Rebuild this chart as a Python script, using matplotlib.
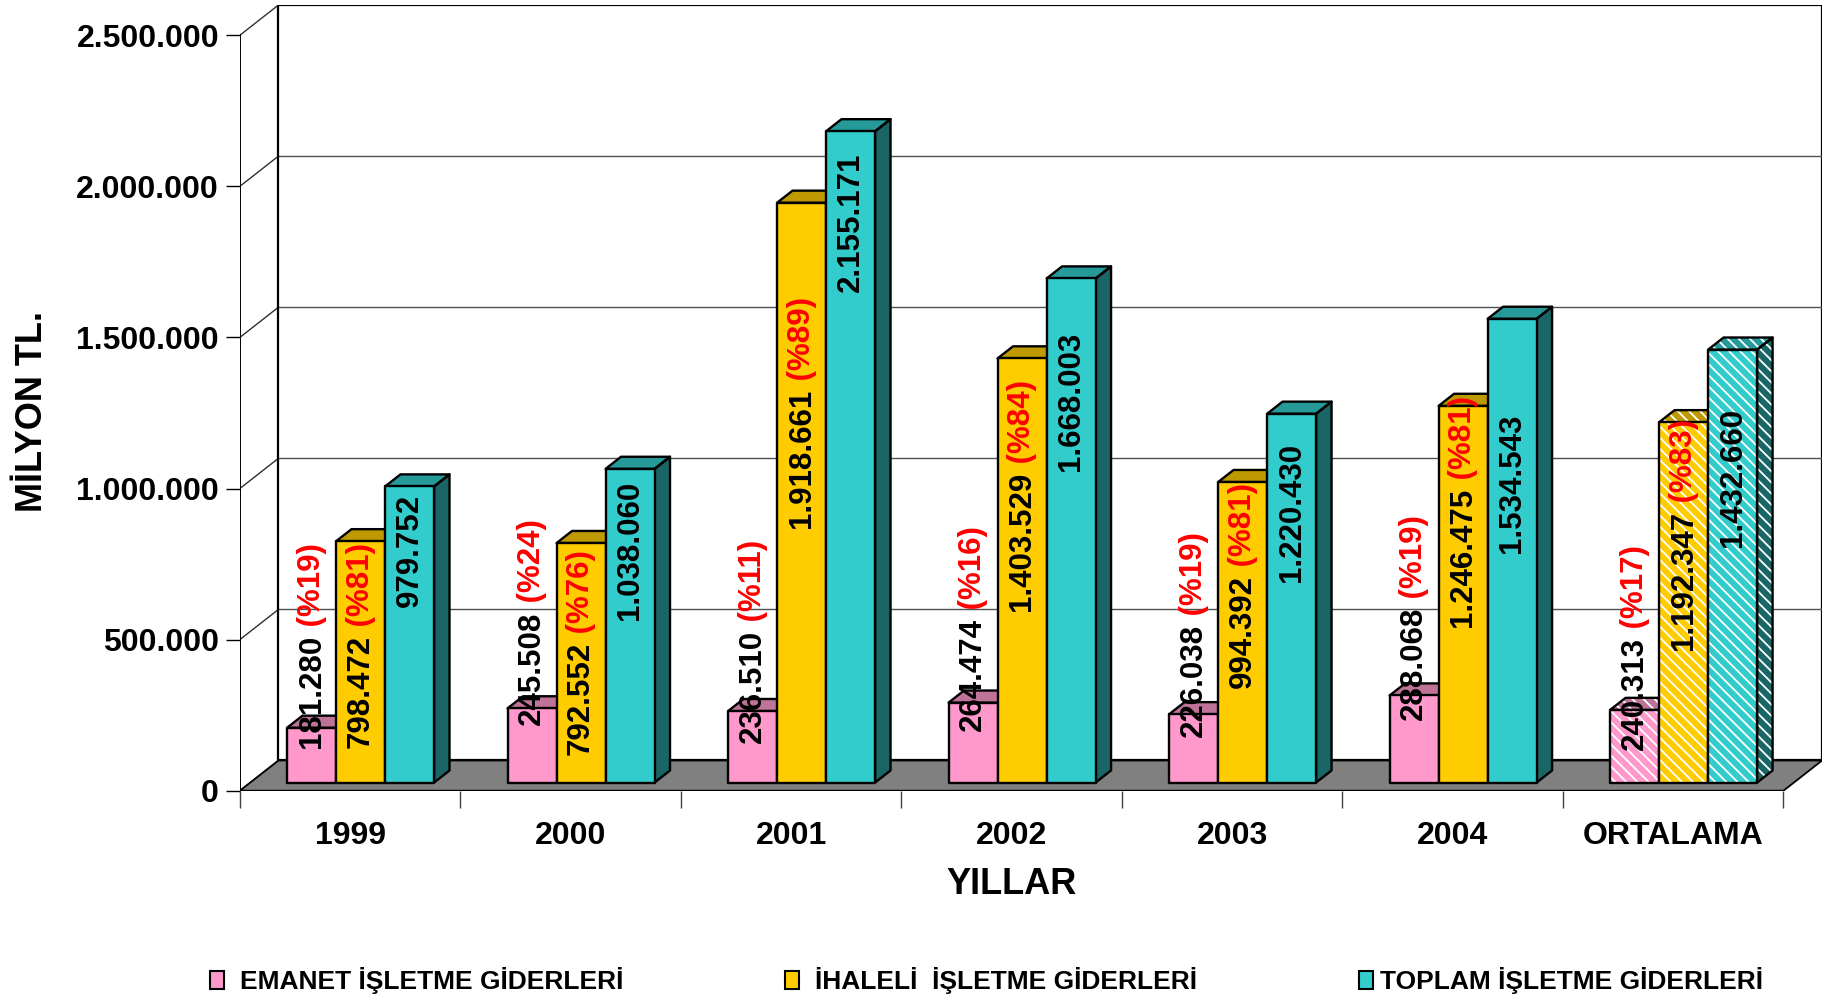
import matplotlib
matplotlib.use('Agg')
import matplotlib.pyplot as plt
from matplotlib.patches import Polygon, Rectangle
from matplotlib.ticker import FuncFormatter
from matplotlib import font_manager

# ---- data ----
categories = ['1999', '2000', '2001', '2002', '2003', '2004', 'ORTALAMA']
emanet = [181280, 245508, 236510, 264474, 226038, 288068, 240313]
ihaleli = [798472, 792552, 1918661, 1403529, 994392, 1246475, 1192347]
toplam = [979752, 1038060, 2155171, 1668003, 1220430, 1534543, 1432660]
emanet_pct = [19, 24, 11, 16, 19, 19, 17]
ihaleli_pct = [81, 76, 89, 84, 81, 81, 83]
series_names = ['EMANET İŞLETME GİDERLERİ', 'İHALELİ  İŞLETME GİDERLERİ', 'TOPLAM İŞLETME GİDERLERİ']

# where each data label starts (labels were placed by hand in the original)
lab_emanet = [141e3, 218e3, 158e3, 197e3, 177e3, 234e3, 135e3]
lab_ihaleli = [141e3, 118e3, 869e3, 595e3, 340e3, 541e3, 465e3]
lab_toplam = [607e3, 565e3, 1650e3, 1058e3, 690e3, 786e3, 806e3]

# ---- style ----
names = {f.name for f in font_manager.fontManager.ttflist}
plt.rcParams['font.family'] = ['Liberation Sans', 'DejaVu Sans']
plt.rcParams['hatch.linewidth'] = 1.3
legend_font = 'Liberation Sans Narrow' if 'Liberation Sans Narrow' in names else 'Liberation Sans'
legend_size = 23 if legend_font == 'Liberation Sans Narrow' else 19

# face colours: front, top, side
colors = [('#FF99CC', '#BF7399', '#804D66'),
          ('#FFCC00', '#BF9900', '#806600'),
          ('#33CCCC', '#269999', '#1A6666')]

DX, DY = 0.175, 100000          # depth offset of the 3d box
D_FRONT, D_BACK = 0.27, 0.67    # depth range of the bars
W = 1 / 4.5                     # bar width
LW = 1.7
YMAX = 2500000
n = len(categories)

fig = plt.figure(figsize=(18.34, 10), dpi=100)
ax = fig.add_axes([0.1308, 0.2093, 0.8627, 0.7857])
ax.set_xlim(0, n + DX)
ax.set_ylim(0, YMAX + DY)
for s in ax.spines.values():
    s.set_visible(False)
ax.patch.set_alpha(0)

# walls
ax.add_patch(Polygon([(DX, DY), (n + DX, DY), (n + DX, YMAX + DY), (DX, YMAX + DY)],
                     closed=True, facecolor='white', edgecolor='black', lw=1.6, zorder=0.5))
for v in range(500000, YMAX, 500000):
    ax.plot([DX, n + DX], [v + DY, v + DY], color='#505050', lw=1, zorder=0.6)
for v in range(0, YMAX + 1, 500000):
    ax.plot([0, DX], [v, v + DY], color='#303030', lw=1, zorder=0.6)
ax.plot([0, 0], [0, YMAX], color='black', lw=1.4, zorder=0.7)
ax.plot([DX, DX], [DY, YMAX + DY], color='black', lw=1.4, zorder=0.7)

# floor
ax.add_patch(Polygon([(0, 0), (n, 0), (n + DX, DY), (DX, DY)], closed=True,
                     facecolor='#808080', edgecolor='black', lw=1.3, zorder=1))

HATCH = '\\\\\\'


def face(pts, color, z, hatched):
    ax.add_patch(Polygon(pts, closed=True, facecolor=color, edgecolor='none', lw=0, zorder=z))
    if hatched:
        ax.add_patch(Polygon(pts, closed=True, fill=False, edgecolor='white', lw=0,
                             hatch=HATCH, zorder=z + 0.01))
    ax.add_patch(Polygon(pts, closed=True, fill=False, edgecolor='black', lw=LW,
                         joinstyle='round', zorder=z + 0.02))


series = [emanet, ihaleli, toplam]
label_start = [lab_emanet, lab_ihaleli, lab_toplam]
pcts = [emanet_pct, ihaleli_pct, None]

for j, vals in enumerate(series):
    front, top, side = colors[j]
    z = 3 + j
    for i, v in enumerate(vals):
        hatched = categories[i] == 'ORTALAMA'
        x0 = i + 0.5 - 1.5 * W + j * W
        xf, yf = x0 + D_FRONT * DX, D_FRONT * DY
        xb, yb = x0 + D_BACK * DX, D_BACK * DY
        face([(xf + W, yf), (xb + W, yb), (xb + W, yb + v), (xf + W, yf + v)], side, z, hatched)
        face([(xf, yf + v), (xf + W, yf + v), (xb + W, yb + v), (xb, yb + v)], top, z, hatched)
        face([(xf, yf), (xf + W, yf), (xf + W, yf + v), (xf, yf + v)], front, z + 0.1, hatched)

        # data label: black value, red share after it
        txt = f'{v:,}'.replace(',', '.')
        t = ax.text(xf + W / 2, label_start[j][i], txt, rotation=90, ha='center', va='bottom',
                    fontsize=22.5, fontweight='bold', color='black', zorder=20)
        if pcts[j] is not None:
            ax.annotate(f' (%{pcts[j][i]})', xy=(0.5, 1.0), xycoords=t, rotation=90,
                        ha='center', va='bottom', fontsize=22.5, fontweight='bold',
                        color='#FF0000', zorder=20)

# axes ticks
ax.set_yticks(range(0, YMAX + 1, 500000))
ax.yaxis.set_major_formatter(FuncFormatter(lambda v, p: f'{int(v):,}'.replace(',', '.')))
ax.tick_params(axis='y', length=10, width=1, pad=5, labelsize=23, colors='black')
for lbl in ax.get_yticklabels():
    lbl.set_fontweight('bold')

ax.set_xticks(range(n + 1))
ax.set_xticklabels([])
ax.set_xticks([i + 0.5 for i in range(n)], minor=True)
ax.set_xticklabels(categories, minor=True)
ax.tick_params(axis='x', which='major', length=12, width=1, color='#404040')
ax.tick_params(axis='x', which='minor', length=0, pad=22, labelsize=23)
for lbl in ax.get_xticklabels(minor=True):
    lbl.set_fontweight('bold')

fig.text(1011 / 1834, 1 - 884 / 1000, 'YILLAR', ha='center', va='center',
         fontsize=26, fontweight='bold')
fig.text(33 / 1834, 1 - 412 / 1000, 'MİLYON TL.', ha='center', va='center',
         rotation=90, fontsize=26, fontweight='bold')

# legend
sq_x = [210, 785, 1359]
txt_x = [240, 815, 1380]
for k in range(3):
    fig.add_artist(Rectangle((sq_x[k] / 1834, 1 - 989 / 1000), 14 / 1834, 18 / 1000,
                             transform=fig.transFigure, facecolor=colors[k][0],
                             edgecolor='black', lw=1.5))
    fig.text(txt_x[k] / 1834, 1 - 980 / 1000, series_names[k], ha='left', va='center',
             fontsize=legend_size, fontweight='bold', family=legend_font)

fig.savefig('out.png', dpi=100)
